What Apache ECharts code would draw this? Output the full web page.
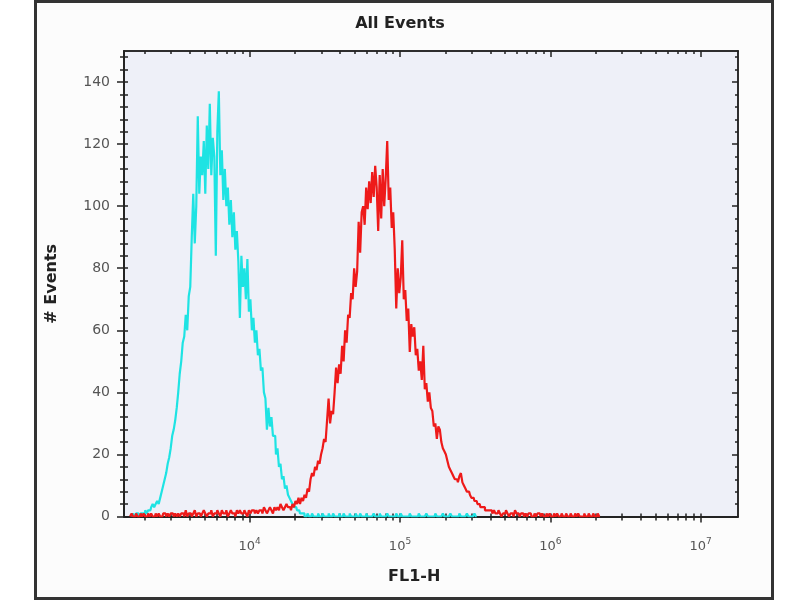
<!DOCTYPE html>
<html>
<head>
<meta charset="utf-8">
<title>All Events</title>
<script src="https://cdn.jsdelivr.net/npm/echarts@6/dist/echarts.min.js"></script>
<style>
  html, body { margin: 0; padding: 0; background: #fff; }
  #frame { position: absolute; left: 34px; top: 0; width: 734px; height: 594px; border: 3px solid #333; background: #fcfcfc; }
  #main { position: absolute; left: 0; top: 0; width: 800px; height: 600px; }
</style>
</head>
<body>
<div id="frame"></div>
<div id="main"></div>
<script>
// FL1-H channel values (log bins), shared by both histograms
var fl1 = [
  1479,1514,1549,1585,1622,1660,1698,1738,1778,1820,
  1862,1905,1950,1995,2042,2089,2138,2188,2239,2291,
  2344,2399,2455,2512,2570,2630,2692,2754,2818,2884,
  2951,3020,3090,3162,3236,3311,3388,3467,3548,3631,
  3715,3802,3890,3981,4074,4169,4266,4365,4467,4571,
  4677,4786,4898,5012,5129,5248,5370,5495,5623,5754,
  5888,6026,6166,6310,6457,6607,6761,6918,7079,7244,
  7413,7586,7762,7943,8128,8318,8511,8710,8913,9120,
  9333,9550,9772,10000,10230,10470,10720,10960,11220,11480,
  11750,12020,12300,12590,12880,13180,13490,13800,14130,14450,
  14790,15140,15490,15850,16220,16600,16980,17380,17780,18200,
  18620,19050,19500,19950,20420,20890,21380,21880,22390,22910,
  23440,23990,24550,25120,25700,26300,26920,27540,28180,28840,
  29510,30200,30900,31620,32360,33110,33880,34670,35480,36310,
  37150,38020,38900,39810,40740,41690,42660,43650,44670,45710,
  46770,47860,48980,50120,51290,52480,53700,54950,56230,57540,
  58880,60260,61660,63100,64570,66070,67610,69180,70790,72440,
  74130,75860,77620,79430,81280,83180,85110,87100,89130,91200,
  93330,95500,97720,100000,102300,104700,107200,109600,112200,114800,
  117500,120200,123000,125900,128800,131800,134900,138000,141300,144500,
  147900,151400,154900,158500,162200,166000,169800,173800,177800,182000,
  186200,190500,195000,199500,204200,208900,213800,218800,223900,229100,
  234400,239900,245500,251200,257000,263000,269200,275400,281800,288400,
  295100,302000,309000,316200,323600,331100,338800,346700,354800,363100,
  371500,380200,389000,398100,407400,416900,426600,436500,446700,457100,
  467700,478600,489800,501200,512900,524800,537000,549500,562300,575400,
  588800,602600,616600,631000,645700,660700,676100,691800,707900,724400,
  741300,758600,776200,794300,812800,831800,851100,871000,891300,912000,
  933300,955000,977200,1000000,1023000,1047000,1072000,1096000,1122000,1148000,
  1175000,1202000,1230000,1259000,1288000,1318000,1349000,1380000,1413000,1445000,
  1479000,1514000,1549000,1585000,1622000,1660000,1698000,1738000,1778000,1820000,
  1862000,1905000,1950000,1995000,2042000,2089000,2138000
];

// cyan histogram (counts per channel)
var cyanCounts = [
  null,null,null,null,null,0,1,0,1,1,
  0,1,1,1,2,1,2,2,3,4,
  3,4,5,4,6,8,10,12,14,17,
  19,22,26,28,31,35,40,46,50,56,
  58,65,60,71,74,90,104,88,100,129,
  104,116,110,121,104,126,112,133,110,122,
  116,84,124,137,110,118,102,112,100,106,
  94,102,90,98,86,92,82,64,84,74,
  80,70,83,66,70,60,64,56,60,52,
  54,47,48,40,38,28,35,29,32,26,
  26,20,22,16,17,12,13,9,10,7,
  6,5,4,3,3,2,2,1,1,1,
  0,0,1,0,0,1,0,0,0,1,
  0,0,1,0,0,0,1,0,0,1,
  0,0,0,1,0,0,1,0,0,0,
  1,0,0,0,1,0,0,1,0,0,
  0,1,0,0,0,0,1,0,0,0,
  1,0,0,0,0,1,0,0,0,0,
  0,1,0,0,1,0,0,0,0,0,
  1,0,0,0,0,0,1,0,0,0,
  0,1,0,0,0,0,0,1,0,0,
  0,0,1,0,0,0,0,1,0,0,
  0,0,0,1,0,0,0,0,1,0,
  0,0,0,1,0
];

// red histogram (counts per channel)
var redCounts = [
  null,null,null,null,0,1,0,0,1,0,
  0,1,0,1,0,0,1,0,1,0,
  0,1,0,1,0,0,1,1,0,1,
  0,1,1,0,1,0,1,0,1,1,
  0,2,0,1,1,0,1,2,0,1,
  1,0,1,2,1,0,1,1,2,0,
  1,1,2,1,0,2,1,1,2,0,
  1,2,1,1,0,2,1,2,1,1,
  2,1,0,2,1,2,2,1,2,1,
  2,2,1,3,2,1,2,3,2,1,
  3,2,3,2,4,3,2,3,4,3,
  3,2,4,3,5,4,6,4,6,5,
  7,6,9,8,12,14,13,16,15,18,
  17,20,22,25,24,31,38,30,34,33,
  40,48,43,49,46,55,50,60,56,65,
  64,72,70,80,74,79,95,85,98,100,
  94,106,99,108,101,111,103,113,106,92,
  110,96,112,100,109,121,102,106,93,98,
  86,67,80,72,77,89,70,73,63,67,
  53,62,58,61,52,54,47,50,44,55,
  41,43,37,40,35,34,29,30,25,29,
  28,24,22,21,20,18,16,15,14,13,
  12,12,11,13,14,11,10,9,8,8,
  7,6,6,5,5,4,4,3,3,3,
  2,2,2,2,2,1,2,1,1,2,
  1,0,1,1,2,1,0,1,1,0,
  2,1,1,0,1,1,0,1,0,1,
  1,0,0,1,0,1,1,0,1,0,
  0,1,0,1,0,0,1,0,1,0,
  0,1,0,0,1,0,0,1,0,0,
  1,0,1,0,0,0,1,0,0,1,
  0,0,1,0,0,1,0
];

// axis ticks
var xLabels = [10000, 100000, 1000000, 10000000];
var xTicks = [2000,3000,4000,5000,6000,7000,8000,9000,
  10000,20000,30000,40000,50000,60000,70000,80000,90000,
  100000,200000,300000,400000,500000,600000,700000,800000,900000,
  1000000,2000000,3000000,4000000,5000000,6000000,7000000,8000000,9000000,
  10000000];
var yLabels = [0, 20, 40, 60, 80, 100, 120, 140];
var yTicks = [0,4,8,12,16,20,24,28,32,36,40,44,48,52,56,60,64,68,72,76,
  80,84,88,92,96,100,104,108,112,116,120,124,128,132,136,140,144,148];

var X_MIN = 1460, X_MAX = 17700000, Y_MAX = 150;
var INK = '#222';
var FONT = 'DejaVu Sans';

function toPoints(counts) {
  return counts.map(function (c, i) {
    return [fl1[i], c === null ? '-' : c];
  });
}

function makeX(pos, ticks, len, inside, labels) {
  return {
    type: 'log', logBase: 10, min: X_MIN, max: X_MAX, position: pos,
    axisLine: { show: true, onZero: false, lineStyle: { color: INK, width: 1.5 } },
    axisTick: { show: true, customValues: ticks, length: len, inside: inside, lineStyle: { color: INK, width: 1.5 } },
    axisLabel: labels ? {
      show: true, customValues: labels, margin: 21, color: '#555',
      fontFamily: FONT, fontSize: 13,
      formatter: function (v) {
        return '10{s|' + Math.round(Math.log(v) / Math.LN10) + '}';
      },
      rich: { s: { fontFamily: FONT, fontSize: 9, color: '#555', padding: [0, 0, 9, 0] } }
    } : { show: false },
    splitLine: { show: false }
  };
}

function makeY(pos, ticks, len, inside, labels) {
  var ax = {
    type: 'value', min: 0, max: Y_MAX, position: pos,
    axisLine: { show: true, onZero: false, lineStyle: { color: INK, width: 1.5 } },
    axisTick: { show: true, customValues: ticks, length: len, inside: inside, lineStyle: { color: INK, width: 1.5 } },
    axisLabel: labels ? {
      show: true, customValues: labels, margin: 14, color: '#555',
      fontFamily: FONT, fontSize: 14
    } : { show: false },
    splitLine: { show: false }
  };
  if (labels) {
    ax.name = '# Events';
    ax.nameLocation = 'middle';
    ax.nameGap = 64;
    ax.nameTextStyle = { fontFamily: FONT, fontWeight: 'bold', fontSize: 16, color: INK };
  }
  return ax;
}

var chart = echarts.init(document.getElementById('main'), null, { renderer: 'canvas' });

chart.setOption({
  animation: false,
  backgroundColor: 'transparent',
  title: [{
    text: 'All Events', left: 'center', top: 16, padding: 0,
    textStyle: { fontFamily: FONT, fontWeight: 'bold', fontSize: 16, color: INK }
  }, {
    text: 'FL1-H', left: 388, top: 569, padding: 0,
    textStyle: { fontFamily: FONT, fontWeight: 'bold', fontSize: 16, color: INK }
  }],
  grid: {
    left: 124, right: 62, top: 51, bottom: 83.5,
    show: true, backgroundColor: '#eef0f8', borderWidth: 0
  },
  xAxis: [
    makeX('bottom', xTicks, 4, false, xLabels),
    makeX('bottom', xLabels, 6, false, null),
    makeX('bottom', xTicks, 3, true, null),
    makeX('top', xTicks, 3, true, null),
    makeX('top', xLabels, 6, true, null)
  ],
  yAxis: [
    makeY('left', yTicks, 4, false, yLabels),
    makeY('left', yLabels, 7, false, null),
    makeY('left', yTicks, 4, true, null),
    makeY('right', yTicks, 3, true, null),
    makeY('right', yLabels, 6, true, null)
  ],
  series: [{
    name: 'cyan', type: 'line', step: 'middle', showSymbol: false,
    xAxisIndex: 0, yAxisIndex: 0,
    data: toPoints(cyanCounts),
    lineStyle: { color: '#1ee3e3', width: 2.2 },
    z: 3
  }, {
    name: 'red', type: 'line', step: 'middle', showSymbol: false,
    xAxisIndex: 0, yAxisIndex: 0,
    data: toPoints(redCounts),
    lineStyle: { color: '#ee1a1a', width: 2.2 },
    z: 4
  }]
});
</script>
</body>
</html>
